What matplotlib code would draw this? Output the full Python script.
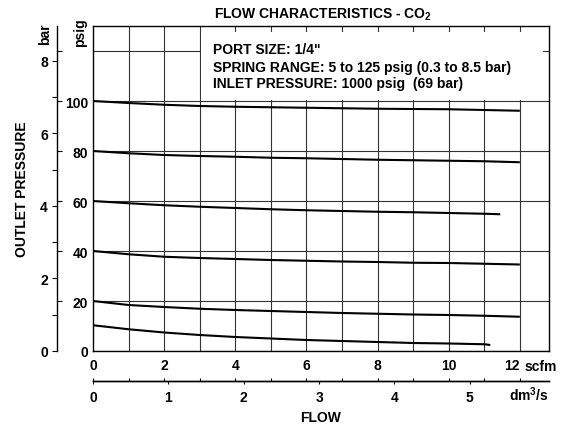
import matplotlib
matplotlib.use("Agg")
import matplotlib.pyplot as plt
from matplotlib.patches import Rectangle
from matplotlib.ticker import FixedLocator

plt.rcParams['font.family'] = ['Liberation Sans', 'DejaVu Sans']
plt.rcParams['font.weight'] = 'bold'
plt.rcParams['mathtext.fontset'] = 'custom'
plt.rcParams['mathtext.bf'] = 'Liberation Sans:bold'
plt.rcParams['mathtext.rm'] = 'Liberation Sans:bold'

# ---- data (flow in scfm, outlet pressure in psig) ----
flow_full = [0, 1, 2, 3, 4, 5, 6, 7, 8, 9, 10, 11, 12]
p100 = [100.0, 99.2, 98.5, 98.0, 97.7, 97.5, 97.3, 97.1, 96.9, 96.8, 96.7, 96.4, 96.1]
p80 = [80.0, 79.1, 78.4, 78.0, 77.7, 77.3, 77.1, 76.8, 76.5, 76.3, 76.1, 75.9, 75.5]
flow_60 = [0, 1, 2, 3, 4, 5, 6, 7, 8, 9, 10, 11, 11.45]
p60 = [60.0, 59.1, 58.3, 57.7, 57.2, 56.7, 56.3, 56.0, 55.7, 55.5, 55.2, 54.9, 54.7]
p40 = [40.0, 38.7, 37.7, 37.2, 36.8, 36.4, 36.1, 35.8, 35.6, 35.3, 35.2, 34.9, 34.6]
p20 = [20.0, 18.4, 17.6, 16.9, 16.4, 16.0, 15.6, 15.2, 14.9, 14.6, 14.4, 14.1, 13.7]
flow_10 = [0, 1, 2, 3, 4, 5, 6, 7, 8, 9, 10, 11, 11.17]
p10 = [10.3, 8.7, 7.4, 6.4, 5.6, 5.0, 4.4, 4.0, 3.6, 3.2, 3.0, 2.7, 2.4]

psig_ticks = [0, 20, 40, 60, 80, 100, 120]
psig_labels = ['0', '20', '40', '60', '80', '100', '']
bar_major = [0, 2, 4, 6, 8]
bar_minor = [1, 3, 5, 7]
scfm_major = [0, 2, 4, 6, 8, 10, 12]
scfm_minor = [1, 3, 5, 7, 9, 11]
dm3_ticks = [0, 1, 2, 3, 4, 5]
info_lines = ['PORT SIZE: 1/4"',
              'SPRING RANGE: 5 to 125 psig (0.3 to 8.5 bar)',
              'INLET PRESSURE: 1000 psig  (69 bar)']

PSI_PER_BAR = 14.5038
SCFM_PER_DM3S = 2.119

W, H = 571, 427
fig = plt.figure(figsize=(W / 100, H / 100), dpi=100)
FS = 10

def fx(px):
    return px / W

def fy(py):
    return (H - py) / H

left, right, top, bottom = 93, 549, 27, 352
XMAX = 12.82
YMAX = 130

ax = fig.add_axes([fx(left), fy(bottom), (right - left) / W, (bottom - top) / H])
ax.set_xlim(0, XMAX)
ax.set_ylim(0, YMAX)
ax.set_axisbelow(True)
ax.set_xticks(range(1, 13))
ax.set_xticklabels([])
ax.tick_params(axis='x', length=0)
ax.set_yticks(psig_ticks)
ax.set_yticklabels(psig_labels, fontsize=FS, fontweight='bold')
ax.tick_params(axis='y', length=0, pad=3.6)
ax.grid(True, color='#333333', linewidth=0.8)
for s in ax.spines.values():
    s.set_linewidth(1.0)

# white info box
ax.add_patch(Rectangle((3.04, 100.6), 12.65 - 3.04, 127.6 - 100.6,
                       facecolor='white', edgecolor='none', zorder=1))
for line, yy in zip(info_lines, [50.3, 68.0, 83.7]):
    ax.text((213 - left) / (right - left), (bottom - yy) / (bottom - top), line,
            transform=ax.transAxes, ha='left', va='center', fontsize=FS,
            fontweight='bold', zorder=3)

for xs, ys in [(flow_full, p100), (flow_full, p80), (flow_60, p60),
               (flow_full, p40), (flow_full, p20), (flow_10, p10)]:
    ax.plot(xs, ys, color='black', linewidth=1.5, zorder=2, solid_capstyle='butt')

# bar axis (left)
axb = fig.add_axes([fx(57), fy(bottom), 0.0005, (bottom - top) / H])
axb.patch.set_visible(False)
for k in ['right', 'top', 'bottom']:
    axb.spines[k].set_visible(False)
axb.spines['left'].set_linewidth(1.0)
axb.set_ylim(0, YMAX / PSI_PER_BAR)
axb.set_xticks([])
axb.set_yticks(bar_major)
axb.set_yticklabels([str(v) for v in bar_major], fontsize=FS, fontweight='bold')
axb.yaxis.set_minor_locator(FixedLocator(bar_minor))
axb.tick_params(axis='y', which='both', direction='out', length=3.6, width=0.8, pad=3)

# psig ticks on the same line
axp = fig.add_axes([fx(57), fy(bottom), 0.0005, (bottom - top) / H])
axp.patch.set_visible(False)
for s in axp.spines.values():
    s.set_visible(False)
axp.set_ylim(0, YMAX)
axp.set_xticks([])
axp.set_yticks(psig_ticks[1:])
axp.set_yticklabels([])
axp.tick_params(axis='y', direction='in', length=3.4, width=0.8)

# flow axis (bottom)
axf = fig.add_axes([fx(left), fy(382), (right - left) / W, 0.0001])
axf.patch.set_visible(False)
for k in ['bottom', 'left', 'right']:
    axf.spines[k].set_visible(False)
axf.spines['top'].set_linewidth(1.0)
axf.set_xlim(0, XMAX)
axf.set_yticks([])
axf.xaxis.tick_top()
axf.set_xticks(scfm_major)
labs = axf.set_xticklabels([str(v) for v in scfm_major], fontsize=FS, fontweight='bold')
labs[-1].set_ha('right')
axf.xaxis.set_minor_locator(FixedLocator(scfm_minor))
axf.tick_params(axis='x', which='both', direction='out', length=2.5, width=0.8, pad=4)

sec = axf.secondary_xaxis('bottom', functions=(lambda x: x / SCFM_PER_DM3S,
                                                lambda x: x * SCFM_PER_DM3S))
sec.set_xticks(dm3_ticks)
sec.set_xticklabels([str(v) for v in dm3_ticks], fontsize=FS, fontweight='bold')
sec.tick_params(axis='x', direction='out', length=2.5, width=0.8, pad=4)
sec.spines['bottom'].set_linewidth(1.0)

fig.text(fx(525), fy(367.5), 'scfm', ha='left', va='center', fontsize=FS, fontweight='bold')
fig.text(fx(549), fy(395), r'dm$^\mathbf{3}$/s', ha='right', va='center', fontsize=FS, fontweight='bold')
fig.text(fx(321), fy(418), 'FLOW', ha='center', va='center', fontsize=FS, fontweight='bold')
fig.text(fx(22), fy(189), 'OUTLET PRESSURE', ha='center', va='center', rotation=90,
         fontsize=FS, fontweight='bold')
fig.text(fx(45), fy(34), 'bar', ha='center', va='center', rotation=90,
         fontsize=FS, fontweight='bold')
fig.text(fx(80), fy(32.5), 'psig', ha='center', va='center', rotation=90,
         fontsize=FS, fontweight='bold')
fig.text(fx(323), fy(15), r'FLOW CHARACTERISTICS - CO$_\mathbf{2}$', ha='center', va='center',
         fontsize=FS, fontweight='bold')

fig.savefig('out.png', dpi=100)
